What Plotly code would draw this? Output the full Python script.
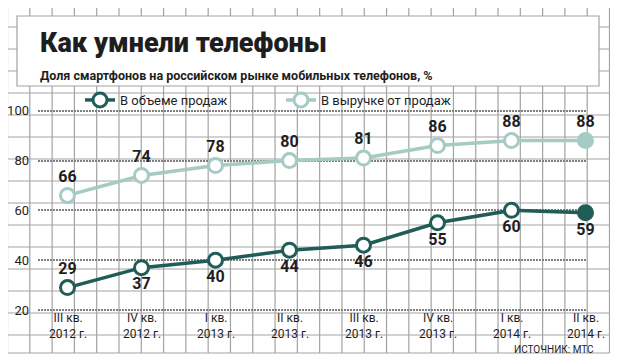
import plotly.graph_objects as go

# ---- data ----
quarters_line1 = ["III кв.", "IV кв.", "I кв.", "II кв.", "III кв.", "IV кв.", "I кв.", "II кв."]
quarters_line2 = ["2012 г.", "2012 г.", "2013 г.", "2013 г.", "2013 г.", "2013 г.", "2014 г.", "2014 г."]
volume_share = [29, 37, 40, 44, 46, 55, 60, 59]      # В объеме продаж
revenue_share = [66, 74, 78, 80, 81, 86, 88, 88]     # В выручке от продаж
y_ticks = [20, 40, 60, 80, 100]

title_text = "Как умнели телефоны"
subtitle_text = "Доля смартфонов на российском рынке мобильных телефонов, %"
source_text = "ИСТОЧНИК: МТС"
series_names = ["В объеме продаж", "В выручке от продаж"]

# ---- style ----
OFF = 8                      # page body margin
W, H = 618 - OFF, 361 - OFF
DARK = "#205d58"
LIGHT = "#a6cac4"
GRID = "#a3a3a3"
TXT = "#1e1e1e"
FONT = "Roboto, 'Liberation Sans', sans-serif"

def px(x):
    return (x - OFF) / W

def py(y):
    return 1 - (y - OFF) / H

xs = list(range(len(quarters_line1)))

# pixel geometry of the plotting area (window pixels)
PLOT_L, PLOT_R = 38, 587
X_FIRST, X_STEP = 67.5, 74.0
Y20, Y100 = 310.0, 110.7
xr0 = -(X_FIRST - PLOT_L) / X_STEP
xr1 = xr0 + (PLOT_R - PLOT_L) / X_STEP
unit = (Y20 - Y100) / 80.0
yr_top = 100 + (Y100 - OFF) / unit
yr_bot = 20 - (361 - Y20) / unit

fig = go.Figure()

n = len(xs)
fig.add_trace(go.Scatter(
    x=xs, y=volume_share, name=series_names[0], mode="lines+markers+text",
    line=dict(color=DARK, width=3.5),
    marker=dict(size=14, color=["white"] * (n - 1) + [DARK], line=dict(color=DARK, width=3)),
    text=[str(v) for v in volume_share],
    textposition=["top center"] + ["bottom center"] * (n - 1),
    textfont=dict(family=FONT, size=16, color=TXT, weight="bold"),
    cliponaxis=False,
))
fig.add_trace(go.Scatter(
    x=xs, y=revenue_share, name=series_names[1], mode="lines+markers+text",
    line=dict(color=LIGHT, width=3.5),
    marker=dict(size=14, color=["white"] * (n - 1) + [LIGHT], line=dict(color=LIGHT, width=3)),
    text=[str(v) for v in revenue_share],
    textposition="top center",
    textfont=dict(family=FONT, size=16, color=TXT, weight="bold"),
    cliponaxis=False,
))

# ---- graph-paper background ----
shapes = []
GX0, GX1, GY0, GY1 = 7.5, 609.5, 5.0, 353.0
STEPX = (GX1 - GX0) / 27
STEPY = 22.0
k = 0
while GX0 + k * STEPX <= GX1 + 0.5:
    x = GX0 + k * STEPX
    shapes.append(dict(type="line", xref="paper", yref="paper", x0=px(x), x1=px(x),
                       y0=py(GY0), y1=py(GY1), line=dict(color=GRID, width=1.2), layer="below"))
    k += 1
k = 0
while GY0 + k * STEPY <= GY1:
    y = GY0 + k * STEPY
    shapes.append(dict(type="line", xref="paper", yref="paper", x0=px(GX0), x1=px(GX1),
                       y0=py(y), y1=py(y), line=dict(color=GRID, width=1.2), layer="below"))
    k += 1
shapes.append(dict(type="line", xref="paper", yref="paper", x0=px(GX0), x1=px(GX1),
                   y0=py(GY1), y1=py(GY1), line=dict(color=GRID, width=1.2), layer="below"))
# white title panel
shapes.append(dict(type="rect", xref="paper", yref="paper", x0=px(17), x1=px(599),
                   y0=py(86), y1=py(16), fillcolor="white", line=dict(color=GRID, width=1.2),
                   layer="below"))

annotations = [
    dict(text=title_text, x=px(38), y=py(43), xref="paper", yref="paper",
         xanchor="left", yanchor="middle", showarrow=False,
         font=dict(family=FONT, size=27, color=TXT, weight=900)),
    dict(text="<b>" + subtitle_text + "</b>", x=px(38), y=py(75), xref="paper", yref="paper",
         xanchor="left", yanchor="middle", showarrow=False,
         font=dict(family=FONT, size=12.5, color=TXT)),
    dict(text=source_text, x=px(596), y=py(349), xref="paper", yref="paper",
         xanchor="right", yanchor="middle", showarrow=False,
         font=dict(family=FONT, size=10, color=TXT)),
]
for i in xs:
    annotations.append(dict(text=quarters_line1[i] + "<br>" + quarters_line2[i],
                            x=i, y=py(326), xref="x", yref="paper",
                            xanchor="center", yanchor="middle", showarrow=False,
                            font=dict(family=FONT, size=12, color=TXT)))

fig.update_layout(
    width=W, height=H,
    margin=dict(l=0, r=0, t=0, b=0),
    paper_bgcolor="white", plot_bgcolor="rgba(0,0,0,0)",
    font=dict(family=FONT, color=TXT),
    showlegend=True,
    legend=dict(orientation="h", x=px(80), y=py(100), xanchor="left", yanchor="middle",
                bgcolor="rgba(0,0,0,0)", font=dict(family=FONT, size=13, color=TXT),
                entrywidth=156, entrywidthmode="pixels", itemwidth=30),
    shapes=shapes,
    annotations=annotations,
    xaxis=dict(domain=[px(PLOT_L), px(PLOT_R)], range=[xr0, xr1], showgrid=False,
               zeroline=False, showticklabels=False, ticks="", fixedrange=True),
    yaxis=dict(domain=[0, 1], range=[yr_bot, yr_top], tickvals=y_ticks,
               showgrid=True, gridcolor="#7f7f7f", gridwidth=2, griddash="2px,1px",
               zeroline=False, ticks="", ticklabelstandoff=8,
               tickfont=dict(family=FONT, size=13, color=TXT)),
)

fig.write_html("out.html")
